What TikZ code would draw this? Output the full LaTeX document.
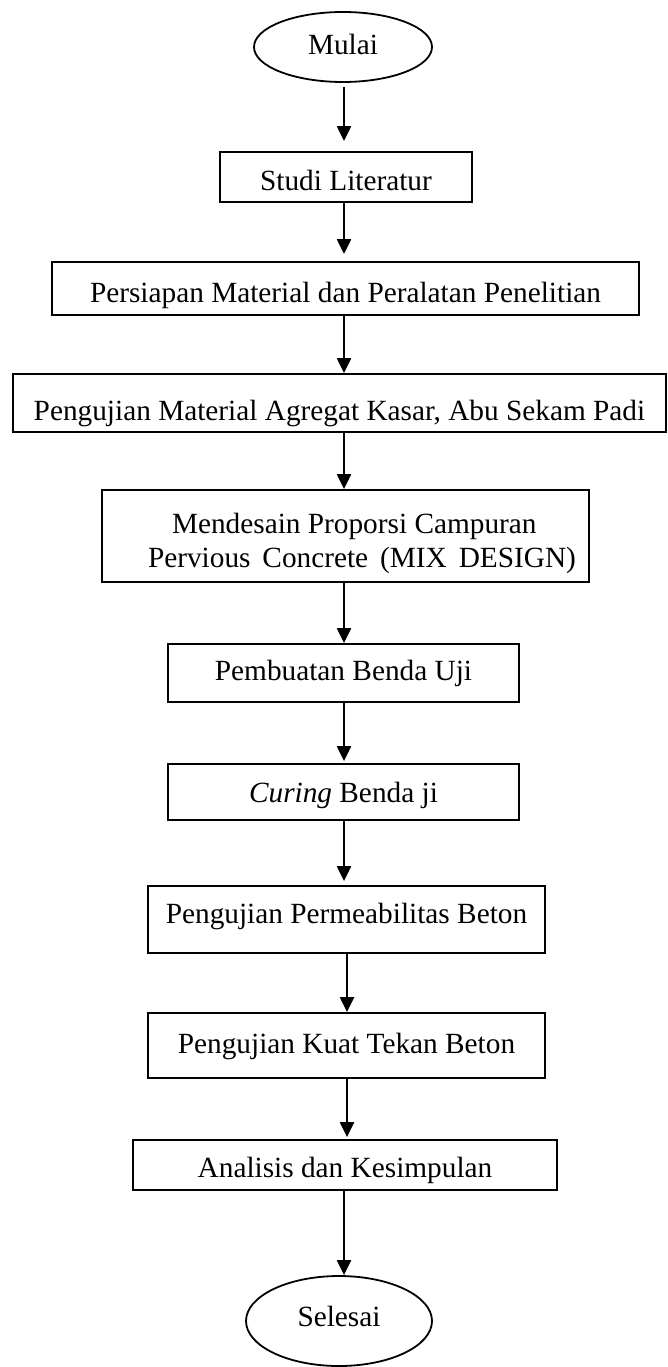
\documentclass[tikz,border=0pt]{standalone}
\usepackage{fontspec}
\setmainfont{Liberation Serif}
\usetikzlibrary{arrows.meta,shapes.geometric}
\tikzset{
  flowbox/.style={draw, line width=1.8pt, rectangle, inner sep=0pt, text depth=0pt,
    font=\fontsize{29.3}{34}\selectfont},
  term/.style={draw, line width=1.8pt, ellipse, inner sep=0pt, text depth=0pt,
    font=\fontsize{29.3}{34}\selectfont},
  flow/.style={line width=2.2pt, -{Triangle[length=15pt,width=14pt]}}
}
\begin{document}
\begin{tikzpicture}[x=1pt,y=-1pt]
\useasboundingbox (0,0) rectangle (668,1367);
\coordinate (ax) at (344,0);
\coordinate (axb) at (347,0);
\node[term, minimum width=178pt, minimum height=70pt, text height=16pt] (mulai) at (343,47) {Mulai};
\node[flowbox, minimum width=252pt, minimum height=50pt, text height=28pt] (n1) at (346,177) {Studi Literatur};
\node[flowbox, minimum width=587pt, minimum height=53pt, text height=27pt] (n2) at (345.5,288.5) {Persiapan Material dan Peralatan Penelitian};
\node[flowbox, minimum width=653pt, minimum height=58pt, text height=34pt] (n3) at (339.5,403) {Pengujian Material Agregat Kasar, Abu Sekam Padi};
\node[flowbox, minimum width=487pt, minimum height=92pt] (n4) at (345.5,536)
  {\hspace*{33pt}\raisebox{0pt}[62pt][0pt]{\begin{tabular}[b]{@{}l@{}}\hspace*{24pt}Mendesain Proporsi Campuran\\\makebox[428pt][s]{Pervious Concrete (MIX DESIGN)}\end{tabular}}};
\node[flowbox, minimum width=351pt, minimum height=58pt, text height=14pt] (n5) at (343.5,673) {Pembuatan Benda Uji};
\node[flowbox, minimum width=351pt, minimum height=56pt, text height=20pt] (n6) at (343.5,792) {\textit{Curing} Benda ji};
\node[flowbox, minimum width=397pt, minimum height=67pt, text height=8pt] (n7) at (346.5,919.5) {Pengujian Permeabilitas Beton};
\node[flowbox, minimum width=397pt, minimum height=65pt, text height=16pt] (n8) at (346.5,1045.5) {Pengujian Kuat Tekan Beton};
\node[flowbox, minimum width=424pt, minimum height=50pt, text height=24pt] (n9) at (345,1165) {Analisis dan Kesimpulan};
\node[term, minimum width=186pt, minimum height=90pt, text height=10pt] (selesai) at (339,1321) {Selesai};
\draw[flow, shorten <=4pt, shorten >=10pt] (mulai.south -| ax) -- (n1.north -| ax);
\draw[flow, shorten >=7pt] (n1.south -| ax) -- (n2.north -| ax);
\draw[flow] (n2.south -| ax) -- (n3.north -| ax);
\draw[flow] (n3.south -| ax) -- (n4.north -| ax);
\draw[flow] (n4.south -| ax) -- (n5.north -| ax);
\draw[flow, shorten >=2pt] (n5.south -| ax) -- (n6.north -| ax);
\draw[flow, shorten >=4pt] (n6.south -| ax) -- (n7.north -| ax);
\draw[flow] (n7.south -| axb) -- (n8.north -| axb);
\draw[flow, shorten >=2pt] (n8.south -| axb) -- (n9.north -| axb);
\draw[flow] (n9.south -| ax) -- (selesai.north -| ax);
\end{tikzpicture}
\end{document}
